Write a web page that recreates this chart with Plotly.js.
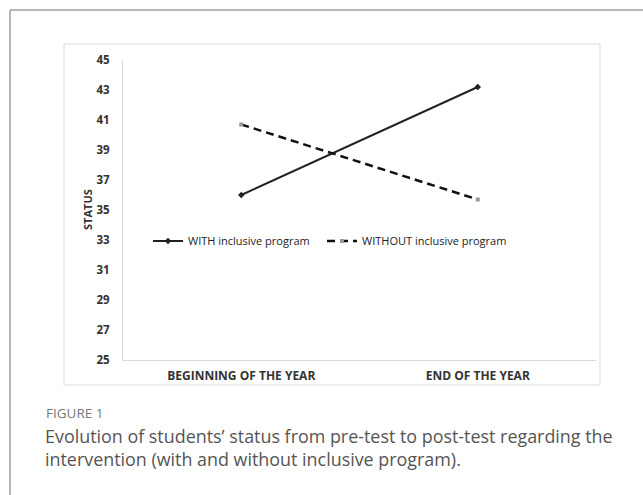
<!DOCTYPE html>
<html><head><meta charset="utf-8">
<script src="https://cdn.plot.ly/plotly-3.0.1.min.js"></script>
<style>html,body{margin:0;padding:0;background:#fff;}#chart{width:643px;height:495px;}</style>
</head><body><div id="chart"></div>
<script>
// ---- data ----
const categories = ["BEGINNING OF THE YEAR", "END OF THE YEAR"];
const withProgram = [36.0, 43.2];
const withoutProgram = [40.7, 35.7];
const seriesNames = ["WITH inclusive program", "WITHOUT inclusive program"];
const yTickValues = [25, 27, 29, 31, 33, 35, 37, 39, 41, 43, 45];
const yAxisTitle = "STATUS";
const figureLabel = "FIGURE 1";
const captionLines = [
  "Evolution of students\u2019 status from pre-test to post-test regarding the",
  "intervention (with and without inclusive program)."
];

// ---- layout helpers (pixel -> paper) ----
const W = 643, H = 495, L = 123, R = 596, T = 60, B = 360;
const fx = px => (px - L) / (R - L);
const fy = py => (B - py) / (B - T);

const xTickFont = {family: "Open Sans, sans-serif", size: 12, color: "#333", weight: 700};
const yTickFont = {family: "Open Sans, sans-serif", size: 11.5, color: "#333", weight: 700};

const traces = [
  {
    x: categories, y: withProgram, name: seriesNames[0], type: "scatter", mode: "lines+markers",
    line: {color: "#222", width: 2},
    marker: {symbol: "diamond", size: 5, color: "#222"},
    legendwidth: 129
  },
  {
    x: categories, y: withoutProgram, name: seriesNames[1], type: "scatter", mode: "lines+markers",
    line: {color: "#111", width: 2.5, dash: "8px,5px"},
    marker: {symbol: "square", size: 4, color: "#999"},
    legendwidth: 175
  }
];

const layout = {
  width: W, height: H,
  margin: {l: L, r: W - R, t: T, b: H - B, pad: 0},
  paper_bgcolor: "#fff", plot_bgcolor: "#fff",
  showlegend: true,
  legend: {
    orientation: "h", x: fx(148), y: fy(241), xanchor: "left", yanchor: "middle",
    entrywidthmode: "pixels",
    bgcolor: "rgba(0,0,0,0)", font: {family: "Open Sans, sans-serif", size: 11, color: "#222"}
  },
  xaxis: {
    type: "category", range: [-0.5, 1.5], showgrid: false, zeroline: false,
    showline: true, linecolor: "#d9d9d9", linewidth: 1, ticks: "",
    tickfont: xTickFont, ticklabelstandoff: 5, fixedrange: true
  },
  yaxis: {
    range: [25, 45], tickvals: yTickValues, showgrid: false, zeroline: false,
    showline: true, linecolor: "#d9d9d9", linewidth: 1, ticks: "",
    tickfont: yTickFont, ticklabelstandoff: 10, fixedrange: true
  },
  shapes: [
    {type: "line", xref: "paper", yref: "paper", x0: fx(10), x1: fx(700), y0: fy(10), y1: fy(10), line: {color: "#a0a0a0", width: 1.5}},
    {type: "line", xref: "paper", yref: "paper", x0: fx(10), x1: fx(10), y0: fy(10), y1: fy(560), line: {color: "#a0a0a0", width: 1.5}},
    {type: "rect", xref: "paper", yref: "paper", x0: fx(64), x1: fx(600), y0: fy(385), y1: fy(44), line: {color: "#dcdcdc", width: 1}}
  ],
  annotations: [
    {text: yAxisTitle, xref: "paper", yref: "paper", x: fx(87), y: fy(210), textangle: -90, showarrow: false,
     xanchor: "center", yanchor: "middle", font: {family: "Open Sans, sans-serif", size: 11, color: "#333", weight: 700}},
    {text: figureLabel, xref: "paper", yref: "paper", x: fx(44), y: fy(413), showarrow: false,
     xanchor: "left", yanchor: "middle", font: {family: "Open Sans, sans-serif", size: 13.5, color: "#777"}},
    {text: captionLines[0], xref: "paper", yref: "paper", x: fx(43), y: fy(436), showarrow: false,
     xanchor: "left", yanchor: "middle", font: {family: "Open Sans, sans-serif", size: 17.9, color: "#555"}},
    {text: captionLines[1], xref: "paper", yref: "paper", x: fx(43), y: fy(459), showarrow: false,
     xanchor: "left", yanchor: "middle", font: {family: "Open Sans, sans-serif", size: 17.9, color: "#555"}}
  ]
};

Plotly.newPlot("chart", traces, layout, {displayModeBar: false, staticPlot: true});
</script>
</body></html>
